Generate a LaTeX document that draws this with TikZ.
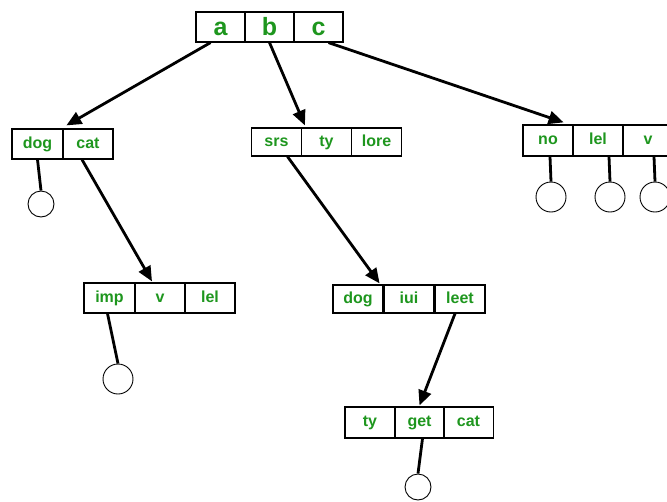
\documentclass[tikz,border=0pt]{standalone}
\usepackage{fontspec}
\setmainfont{Liberation Sans}
\usetikzlibrary{arrows.meta}
\definecolor{keygreen}{RGB}{30,150,30}
\tikzset{
  cell/.style={draw, line width=1.2pt, minimum width=50, minimum height=30, inner sep=0pt,
    text height=11pt, text depth=3pt,
    text=keygreen, font=\bfseries\fontsize{16}{18}\selectfont},
  bigcell/.style={cell, minimum width=49, text height=17pt, text depth=1pt,
    font=\bfseries\fontsize{25}{27}\selectfont},
  leaf/.style={draw, circle, line width=0.9pt, inner sep=0pt},
  link/.style={line width=2.8pt},
  ptr/.style={link, -{Triangle[length=15pt,width=13pt]}}
}
\begin{document}
\begin{tikzpicture}[x=1pt,y=-1pt]
\useasboundingbox (0,0) rectangle (667,501);
% root
\node[bigcell] (r0a) at (220.5,27) {a};
\node[bigcell] (r0b) at (269.5,27) {b};
\node[bigcell] (r0c) at (318.5,27) {c};
% first level
\node[cell, minimum width=51] (n1a) at (37.5,144) {dog};
\node[cell] (n1b) at (88,144) {cat};
\node[cell, minimum height=28] (n2a) at (276.5,142) {srs};
\node[cell, minimum height=28] (n2b) at (326.5,142) {ty};
\node[cell, minimum height=28] (n2c) at (376.5,142) {lore};
\node[cell, minimum height=31] (n3a) at (548,140.5) {no};
\node[cell, minimum height=31] (n3b) at (598,140.5) {lel};
\node[cell, minimum height=31] (n3c) at (648,140.5) {v};
% second level
\node[cell, minimum width=51] (n4a) at (109.5,298) {imp};
\node[cell] (n4b) at (160,298) {v};
\node[cell] (n4c) at (210,298) {lel};
\node[cell, minimum height=28] (n5a) at (358,299) {dog};
\node[cell, minimum height=28] (n5b) at (409,299) {iui};
\node[cell, minimum height=28] (n5c) at (460,299) {leet};
% third level
\node[cell, minimum height=31] (n6a) at (370,422.5) {ty};
\node[cell, minimum height=31] (n6b) at (419.5,422.5) {get};
\node[cell, minimum height=31] (n6c) at (468.5,422.5) {cat};
% empty children
\node[leaf, minimum size=26] (lf1) at (41,204) {};
\node[leaf, minimum size=30] (lf3a) at (551,197) {};
\node[leaf, minimum size=30] (lf3b) at (610,197) {};
\node[leaf, minimum size=30] (lf3c) at (655,197) {};
\node[leaf, minimum size=30] (lf4) at (118,379) {};
\node[leaf, minimum size=26] (lf6) at (418,487) {};

\draw[ptr] ([xshift=-10pt]r0a.south) -- ([xshift=4pt,yshift=3pt]n1b.north west);
\draw[ptr] (r0b.south) -- ([xshift=4pt,yshift=2pt]n2b.north west);
\draw[ptr] ([xshift=10pt]r0c.south) -- ([xshift=-10pt,yshift=2pt]n3a.north east);
\draw[ptr] ([xshift=-6pt]n1b.south) -- ([xshift=-8pt,yshift=1pt]n4b.north);
\draw[ptr] ([xshift=11pt]n2a.south) -- ([xshift=-4pt,yshift=1pt]n5a.north east);
\draw[ptr] ([xshift=-5pt]n5c.south) -- ([yshift=1pt]n6b.north);

\draw[link] (n1a.south) -- (lf1.north);
\draw[link] ([xshift=2pt]n3a.south) -- (lf3a.north);
\draw[link] ([xshift=11pt]n3b.south) -- (lf3b.north);
\draw[link] ([xshift=6pt]n3c.south) -- (lf3c.north);
\draw[link] ([xshift=-2pt]n4a.south) -- (lf4.north);
\draw[link] ([xshift=3pt]n6b.south) -- (lf6.north);

\end{tikzpicture}
\end{document}
